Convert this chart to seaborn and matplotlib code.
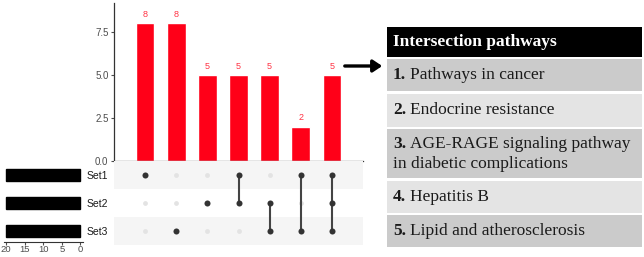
import numpy as np
import pandas as pd
import matplotlib.pyplot as plt
import seaborn as sns
from matplotlib.patches import FancyArrowPatch, Rectangle

# upset data
set_names = ['Set1', 'Set2', 'Set3']
set_sizes = [20, 20, 20]
counts = [8, 8, 5, 5, 5, 2, 5]
members = [['Set1'], ['Set3'], ['Set2'], ['Set1', 'Set2'],
           ['Set2', 'Set3'], ['Set1', 'Set3'], ['Set1', 'Set2', 'Set3']]
size_ticks = [20, 15, 10, 5, 0]
count_ticks = [0, 2.5, 5.0, 7.5]

# table on the right
table_title = 'Intersection pathways'
pathway_nums = ['1.', '2.', '3.', '4.', '5.']
pathway_names = ['Pathways in cancer',
                 'Endocrine resistance',
                 'AGE-RAGE signaling pathway\nin diabetic complications',
                 'Hepatitis B',
                 'Lipid and atherosclerosis']

W, H = 644, 257
sns.set_style('white')
plt.rcParams['font.family'] = ['Liberation Sans', 'DejaVu Sans']

fig = plt.figure(figsize=(W / 100, H / 100), dpi=100)


def box(x0, y0, x1, y1):
    return [x0 / W, 1 - y1 / H, (x1 - x0) / W, (y1 - y0) / H]


ax_bar = fig.add_axes(box(114, 3, 363, 161))
ax_mat = fig.add_axes(box(114, 161, 363, 245))
ax_set = fig.add_axes(box(4, 161, 82.6, 242))
ax_tab = fig.add_axes(box(387, 0, 642, 257))

ncol = len(counts)
red = '#ff0018'
grey_txt = '#4d4d4d'

# intersection sizes
sns.barplot(x=np.arange(ncol), y=counts, native_scale=True, color=red,
            saturation=1, width=0.6, errorbar=None, ax=ax_bar)
ax_bar.bar_label(ax_bar.containers[0], labels=[str(c) for c in counts],
                 color='#ff3344', fontsize=6.5, padding=3)
ax_bar.set_xlim(-1, ncol)
ax_bar.set_ylim(0, 9.17)
ax_bar.set_xticks([])
ax_bar.set_yticks(count_ticks)
ax_bar.set_yticklabels(['{:.1f}'.format(t) for t in count_ticks])
ax_bar.tick_params(axis='y', left=True, length=2.5, width=0.8, pad=1.5,
                   labelsize=7, colors=grey_txt)
for s in ['top', 'right']:
    ax_bar.spines[s].set_visible(False)
for s in ['left', 'bottom']:
    ax_bar.spines[s].set_color('#333333')
    ax_bar.spines[s].set_linewidth(0.9)

# dot matrix
rows = []
for c, m in enumerate(members):
    for r, s in enumerate(set_names):
        rows.append({'col': c, 'row': r, 'on': s in m})
grid = pd.DataFrame(rows)

for i in range(0, len(set_names), 2):
    ax_mat.axhspan(i - 0.5, i + 0.5, color='#f5f5f5', lw=0, zorder=0)
sns.scatterplot(data=grid[~grid.on], x='col', y='row', color='#e3e3e3',
                s=12, linewidth=0, ax=ax_mat, zorder=2)
for c, m in enumerate(members):
    idx = [set_names.index(s) for s in m]
    if len(idx) > 1:
        ax_mat.plot([c, c], [min(idx), max(idx)], color='#444444', lw=1.5, zorder=3)
sns.scatterplot(data=grid[grid.on], x='col', y='row', color='#333333',
                s=19, linewidth=0, ax=ax_mat, zorder=4)
ax_mat.set_xlim(-1, ncol)
ax_mat.set_ylim(len(set_names) - 0.5, -0.5)
ax_mat.set_xticks([])
ax_mat.set_yticks(range(len(set_names)))
ax_mat.set_yticklabels(set_names)
ax_mat.tick_params(axis='y', length=0, pad=4, labelsize=7.5, colors='#1a1a1a')
ax_mat.set_xlabel('')
ax_mat.set_ylabel('')
sns.despine(ax=ax_mat, left=True, bottom=True)

# set sizes (axes is 3px shorter than the matrix, so trim the limit to keep rows aligned)
sns.barplot(x=set_sizes, y=set_names, orient='h', color='black', saturation=1,
            width=0.43, edgecolor='black', ax=ax_set)
ax_set.set_xlim(20.6, -0.6)
ax_set.set_ylim(len(set_names) - 0.5 - 3 / 28, -0.5)
ax_set.set_yticks([])
ax_set.set_xticks(size_ticks)
ax_set.tick_params(axis='x', bottom=True, length=2, width=0.8, pad=0.5,
                   labelsize=6.8, colors=grey_txt)
ax_set.set_xlabel('')
ax_set.set_ylabel('')
sns.despine(ax=ax_set, left=True)
ax_set.spines['bottom'].set_color('#333333')
ax_set.spines['bottom'].set_linewidth(0.8)

# arrow to the table
fig.add_artist(FancyArrowPatch((342 / W, 1 - 66 / H), (385 / W, 1 - 66 / H),
                               transform=fig.transFigure,
                               arrowstyle='-|>,head_length=0.45,head_width=0.3',
                               mutation_scale=12, lw=2.4, color='black'))

# table
serif = ['Liberation Serif', 'DejaVu Serif']
ax_tab.set_xlim(0, 255)
ax_tab.set_ylim(H, 0)
ax_tab.axis('off')

top, head_h, gap, pad = 27, 30, 2.4, 6
row_h = [32, 33, 49, 32, 32]
ax_tab.add_patch(Rectangle((0, top), 255, head_h, color='black', lw=0))
ax_tab.text(pad, top + head_h / 2, table_title, color='white', fontsize=12.5,
            fontweight='bold', family=serif, va='center', ha='left')

y = top + head_h + gap
for i, (num, name) in enumerate(zip(pathway_nums, pathway_names)):
    h = row_h[i]
    ax_tab.add_patch(Rectangle((0, y), 255, h, lw=0,
                               color='#cbcbcb' if i % 2 == 0 else '#e4e4e4'))
    lines = name.split('\n')
    mid = y + h / 2
    for k, line in enumerate(lines):
        ly = mid + (k - (len(lines) - 1) / 2) * 20
        if k == 0:
            t = ax_tab.text(pad, ly, num, fontsize=12.5, fontweight='bold',
                            family=serif, color='#1a1a1a', va='center', ha='left')
            ax_tab.annotate(line, xy=(1, 0), xycoords=t, xytext=(3, 0),
                            textcoords='offset points', fontsize=12.5,
                            family=serif, color='#1a1a1a', va='bottom', ha='left')
        else:
            ax_tab.text(pad, ly, line, fontsize=12.5, family=serif,
                        color='#1a1a1a', va='center', ha='left')
    y += h + gap

fig.savefig('out.png', dpi=100)
